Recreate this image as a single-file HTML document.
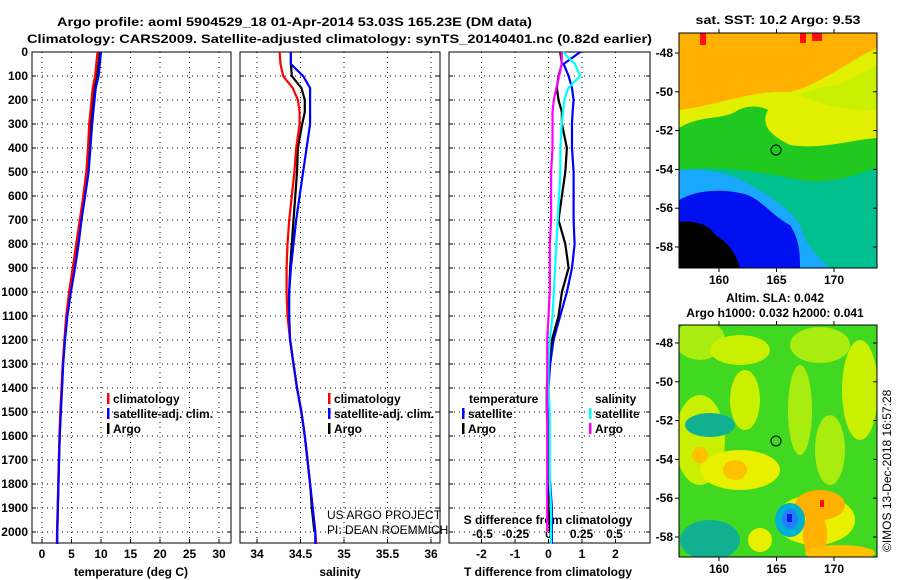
<!DOCTYPE html>
<html><head><meta charset="utf-8"><style>
body{margin:0;background:#fff;}
svg{display:block;font-family:"Liberation Sans",sans-serif;}
.t{font-weight:bold;font-size:12px;}
</style></head><body>
<svg id="chart" width="900" height="580" viewBox="0 0 900 580" xmlns="http://www.w3.org/2000/svg">
<text x="57" y="26" class="t" font-size="14" textLength="475" lengthAdjust="spacingAndGlyphs">Argo profile: aoml 5904529_18 01-Apr-2014 53.03S 165.23E (DM data)</text>
<text x="27" y="43" class="t" font-size="14" textLength="625" lengthAdjust="spacingAndGlyphs">Climatology: CARS2009. Satellite-adjusted climatology: synTS_20140401.nc (0.82d earlier)</text>
<g id="panels"></g>
<g id="maps">
 <text x="778" y="24" class="t" text-anchor="middle" textLength="165" lengthAdjust="spacingAndGlyphs">sat. SST: 10.2 Argo: 9.53</text>
 <clipPath id="c1"><rect x="679" y="33" width="198" height="235"/></clipPath>
 <g clip-path="url(#c1)">
  <rect x="679" y="33" width="198" height="235" fill="#ffb000"/>
  <rect x="700" y="33" width="6" height="12" fill="#ff1010"/>
  <rect x="800" y="33" width="6" height="10" fill="#ff1010"/>
  <rect x="812" y="33" width="10" height="8" fill="#ff1010"/>
  <path d="M679,110 C720,105 750,90 790,92 C820,85 850,60 877,48 L877,268 L679,268Z" fill="#e0f000"/>
  <path d="M800,95 C815,85 835,88 850,80 L877,65 L877,110 C840,110 820,105 800,95Z" fill="#c8f000"/>
  <path d="M679,128 C700,115 720,120 735,112 C745,105 760,105 768,110 C760,125 770,135 790,145 C820,150 850,140 877,138 L877,268 L679,268Z" fill="#20c820"/>
  <path d="M679,170 C720,165 760,172 800,180 C830,185 855,175 877,168 L877,268 L679,268Z" fill="#00c090"/>
  <path d="M679,170 C700,168 730,172 750,185 C770,195 790,210 800,225 C805,245 820,260 830,268 L679,268Z" fill="#1aa8ff"/>
  <path d="M679,200 C700,188 725,190 740,193 C760,196 770,215 790,225 C800,240 800,255 800,268 L679,268Z" fill="#0010f0"/>
  <path d="M679,222 C695,220 710,225 715,235 C725,240 735,250 740,268 L679,268Z" fill="#000"/>
  <circle cx="776" cy="150" r="5" fill="none" stroke="#000"/>
 </g>
 <rect x="679" y="33" width="198" height="235" fill="none" stroke="#000"/>
 <text x="775" y="302" class="t" text-anchor="middle">Altim. SLA: 0.042</text>
 <text x="775" y="317" class="t" text-anchor="middle">Argo h1000: 0.032 h2000: 0.041</text>
 <clipPath id="c2"><rect x="679" y="325" width="198" height="232"/></clipPath>
 <g clip-path="url(#c2)">
  <rect x="679" y="325" width="198" height="232" fill="#40d820"/>
  <ellipse cx="700" cy="340" rx="25" ry="20" fill="#a8ec10"/>
  <ellipse cx="820" cy="345" rx="30" ry="18" fill="#a8ec10"/>
  <ellipse cx="800" cy="410" rx="12" ry="45" fill="#a8ec10"/>
  <ellipse cx="830" cy="450" rx="15" ry="35" fill="#a8ec10"/>
  <ellipse cx="740" cy="350" rx="30" ry="15" fill="#c8f000"/>
  <ellipse cx="745" cy="400" rx="15" ry="30" fill="#c8f000"/>
  <ellipse cx="700" cy="440" rx="25" ry="45" fill="#c8f000"/>
  <ellipse cx="740" cy="470" rx="40" ry="20" fill="#e8f000"/>
  <ellipse cx="735" cy="470" rx="12" ry="10" fill="#ffc000"/>
  <ellipse cx="700" cy="455" rx="8" ry="8" fill="#ffc000"/>
  <ellipse cx="860" cy="390" rx="18" ry="50" fill="#c8f000"/>
  <ellipse cx="710" cy="425" rx="25" ry="12" fill="#10b090"/>
  <ellipse cx="815" cy="520" rx="40" ry="25" fill="#e8f000"/>
  <ellipse cx="820" cy="505" rx="25" ry="15" fill="#ffb000"/>
  <ellipse cx="815" cy="535" rx="12" ry="25" fill="#ffb000"/>
  <ellipse cx="840" cy="553" rx="35" ry="8" fill="#ffc000"/>
  <ellipse cx="760" cy="540" rx="12" ry="12" fill="#e8f000"/>
  <ellipse cx="710" cy="540" rx="30" ry="20" fill="#10b090"/>
  <ellipse cx="790" cy="520" rx="15" ry="17" fill="#00b0d0"/>
  <ellipse cx="790" cy="519" rx="8" ry="10" fill="#2080ff"/>
  <rect x="787" y="514" width="5" height="8" fill="#0010f0"/>
  <rect x="820" y="500" width="4" height="7" fill="#ff1010"/>
  <circle cx="776" cy="441" r="5" fill="none" stroke="#000"/>
 </g>
 <rect x="679" y="325" width="198" height="232" fill="none" stroke="#000"/>
 <text transform="translate(891,552) rotate(-90)" font-size="12">©IMOS 13-Dec-2018 16:57:28</text>
</g>
</svg>
<script>
const depths=[0,50,100,150,200,250,300,400,500,600,700,800,900,1000,1100,1200,1300,1400,1500,1600,1700,1800,1900,2000,2050];
const tempClim=[9.4,9.2,9.0,8.6,8.4,8.2,8.0,7.8,7.5,7.0,6.4,5.8,5.2,4.6,4.1,3.8,3.5,3.3,3.1,2.95,2.85,2.75,2.65,2.55,2.5];
const tempSat=[10.0,9.8,9.6,9.1,8.9,8.7,8.5,8.2,7.9,7.3,6.7,6.2,5.6,4.9,4.3,3.9,3.6,3.4,3.2,3.0,2.9,2.8,2.7,2.6,2.6];
const tempArgo=[9.8,9.6,9.3,8.9,8.7,8.4,8.3,8.0,7.7,7.2,6.6,6.0,5.4,4.8,4.2,3.85,3.55,3.35,3.15,3.0,2.88,2.78,2.68,2.6];
const salClim=[34.26,34.27,34.30,34.41,34.47,34.49,34.49,34.45,34.43,34.40,34.37,34.35,34.34,34.34,34.35,34.38,34.42,34.46,34.51,34.55,34.58,34.61,34.64,34.67,34.68];
const salSat=[34.39,34.39,34.53,34.61,34.61,34.61,34.61,34.57,34.53,34.49,34.45,34.42,34.39,34.37,34.37,34.38,34.42,34.46,34.51,34.55,34.58,34.61,34.64,34.67,34.67];
const salArgo=[34.39,34.39,34.40,34.51,34.55,34.55,34.52,34.47,34.46,34.44,34.42,34.40,34.38,34.37,34.36,34.38,34.42,34.46,34.51,34.55,34.58,34.61,34.63,34.66];
const tDiffSat=[0.95,0.45,0.6,0.7,0.75,0.72,0.7,0.7,0.75,0.75,0.75,0.78,0.7,0.55,0.35,0.15,0.05,0.0,0.0,0.0,0.0,0.05,0.1,0.1,0.1];
const tDiffArgo=[0.35,0.4,0.3,0.25,0.3,0.4,0.4,0.55,0.5,0.4,0.3,0.5,0.6,0.4,0.3,0.1,0.0,-0.05,-0.05,0.0,0.0,0.0,0.0,0.05];
const sDiffSat=[0.11,0.2,0.24,0.15,0.12,0.11,0.1,0.09,0.09,0.08,0.07,0.06,0.05,0.04,0.03,0.01,0.0,0.0,0.01,0.01,0.01,0.01,0.02,0.02,0.02];
const sDiffArgo=[0.1,0.1,0.08,0.06,0.04,0.03,0.03,0.03,0.02,0.02,0.02,0.01,0.01,0.01,0.0,-0.01,-0.01,-0.01,-0.01,-0.01,-0.01,-0.01,-0.01,-0.01];
const depthTicks=[0,100,200,300,400,500,600,700,800,900,1000,1100,1200,1300,1400,1500,1600,1700,1800,1900,2000];
const tempTicks=[0,5,10,15,20,25,30];
const salTicks=[34,34.5,35,35.5,36];
const tDiffTicks=[-2,-1,0,1,2];
const sDiffTicks=["-0.5","-0.25","0","0.25","0.5"];
const latTicks=[-48,-50,-52,-54,-56,-58];
const lonTicks=[160,165,170];

const NS='http://www.w3.org/2000/svg';
const g=document.getElementById('panels');
function mk(tag,at,parent){const e=document.createElementNS(NS,tag);for(const k in at)e.setAttribute(k,at[k]);(parent||g).appendChild(e);return e;}
const TOP=52,BOT=543;
const yD=d=>TOP+d*0.24;
const xT=t=>42+t*5.9;
const xS=s=>257+(s-34)*87;
const xTD=v=>548.5+v*33.5;
const xSD=v=>548.5+v*132;
const panels=[[32,231],[240,440],[449,650]];

function grid(p,xs){
  const [l,r]=panels[p];
  depthTicks.forEach(d=>{const e=mk('line',{x1:l,x2:r,y1:yD(d),y2:yD(d),stroke:'#000','stroke-dasharray':'1,4','stroke-width':1});
    
    
    mk('line',{x1:l,x2:l+4,y1:yD(d),y2:yD(d),stroke:'#000'});mk('line',{x1:r-4,x2:r,y1:yD(d),y2:yD(d),stroke:'#000'});});
  xs.forEach(x=>{const e=mk('line',{x1:x,x2:x,y1:TOP,y2:BOT,stroke:'#000','stroke-dasharray':'1,4'});
    
    
    mk('line',{x1:x,x2:x,y1:BOT-4,y2:BOT,stroke:'#000'});});
  const b=mk('rect',{x:l,y:TOP,width:r-l,height:BOT-TOP,fill:'none',stroke:'#000'});
  
  
}
grid(0,tempTicks.map(xT));grid(1,salTicks.map(xS));grid(2,tDiffTicks.map(xTD));
depthTicks.forEach(d=>{const e=mk('text',{x:28,y:yD(d)+4,'text-anchor':'end',class:'t'});e.textContent=d;
  
  });
function xlabels(ticks,fx,labels,y){ticks.forEach((t,i)=>{const e=mk('text',{x:fx(t),y:y,'text-anchor':'middle',class:'t'});e.textContent=labels?labels[i]:t;
  
  });}
xlabels(tempTicks,xT,null,558);xlabels(salTicks,xS,null,558);xlabels(tDiffTicks,xTD,null,558);
xlabels(sDiffTicks.map(Number),xSD,sDiffTicks,538);
function lab(x,y,s,name){const e=mk('text',{x:x,y:y,'text-anchor':'middle',class:'t'});e.textContent=s;
  
  }
lab(131,576,'temperature (deg C)','temperature-axis-title');
lab(340,576,'salinity','salinity-axis-title');
lab(548,576,'T difference from climatology','tdiff-axis-title');
lab(548,524,'S difference from climatology','sdiff-axis-title');
function line(xf,vals,color,name){
  const pts=vals.map((v,i)=>xf(v).toFixed(1)+','+yD(depths[i]).toFixed(1)).join(' ');
  const e=mk('polyline',{points:pts,fill:'none',stroke:color,'stroke-width':2.2});
  
  
}
line(xT,tempArgo,'#000','temp-argo');line(xT,tempClim,'#f00','temp-climatology');line(xT,tempSat,'#00f','temp-satellite-adj');
line(xS,salArgo,'#000','sal-argo');line(xS,salClim,'#f00','sal-climatology');line(xS,salSat,'#00f','sal-satellite-adj');
line(xTD,tDiffSat,'#00f','tdiff-satellite');line(xTD,tDiffArgo,'#000','tdiff-argo');
line(xSD,sDiffSat,'#0ff','sdiff-satellite');line(xSD,sDiffArgo,'#f0f','sdiff-argo');
function leg(x,y,color,s,name){mk('rect',{x:x,y:y-10,width:2.5,height:11,fill:color});
  const e=mk('text',{x:x+6,y:y,class:'t'});e.textContent=s;
  
  }
leg(107,403,'#f00','climatology','legend-climatology');leg(107,418,'#00f','satellite-adj. clim.','legend-satellite-adj');leg(107,433,'#000','Argo','legend-argo');
leg(328,403,'#f00','climatology','legend-climatology');leg(328,418,'#00f','satellite-adj. clim.','legend-satellite-adj');leg(328,433,'#000','Argo','legend-argo');
{const e=mk('text',{x:469,y:403,class:'t'});e.textContent='temperature';}
{const e=mk('text',{x:595,y:403,class:'t'});e.textContent='salinity';}
leg(462,418,'#00f','satellite','legend-t-satellite');leg(462,433,'#000','Argo','legend-t-argo');
leg(589,418,'#0ff','satellite','legend-s-satellite');leg(589,433,'#f0f','Argo','legend-s-argo');
{const e=mk('text',{x:327,y:519,'font-size':12});e.textContent='US ARGO PROJECT';}
{const e=mk('text',{x:327,y:534,'font-size':12});e.textContent='PI: DEAN ROEMMICH';}
const maps=document.getElementById('maps');
function mapAxes(lat0y,lonTop,bottom,top){
  const yL=l=>lat0y+(-48-l)*19.4;
  const xL=l=>719+(l-160)*11.5;
  latTicks.forEach(l=>{mk('line',{x1:675,x2:679,y1:yL(l),y2:yL(l),stroke:'#000'},maps);mk('line',{x1:873,x2:877,y1:yL(l),y2:yL(l),stroke:'#000'},maps);
    const e=mk('text',{x:673,y:yL(l)+4,'text-anchor':'end',class:'t'},maps);e.textContent=l;
    
    });
  lonTicks.forEach(l=>{mk('line',{x1:xL(l),x2:xL(l),y1:bottom,y2:bottom+4,stroke:'#000'},maps);mk('line',{x1:xL(l),x2:xL(l),y1:top-4,y2:top,stroke:'#000'},maps);
    const e=mk('text',{x:xL(l),y:lonTop,'text-anchor':'middle',class:'t'},maps);e.textContent=l;
    
    });
}
mapAxes(53,284,268,33);mapAxes(343,573,557,325);
</script>
</body></html>
